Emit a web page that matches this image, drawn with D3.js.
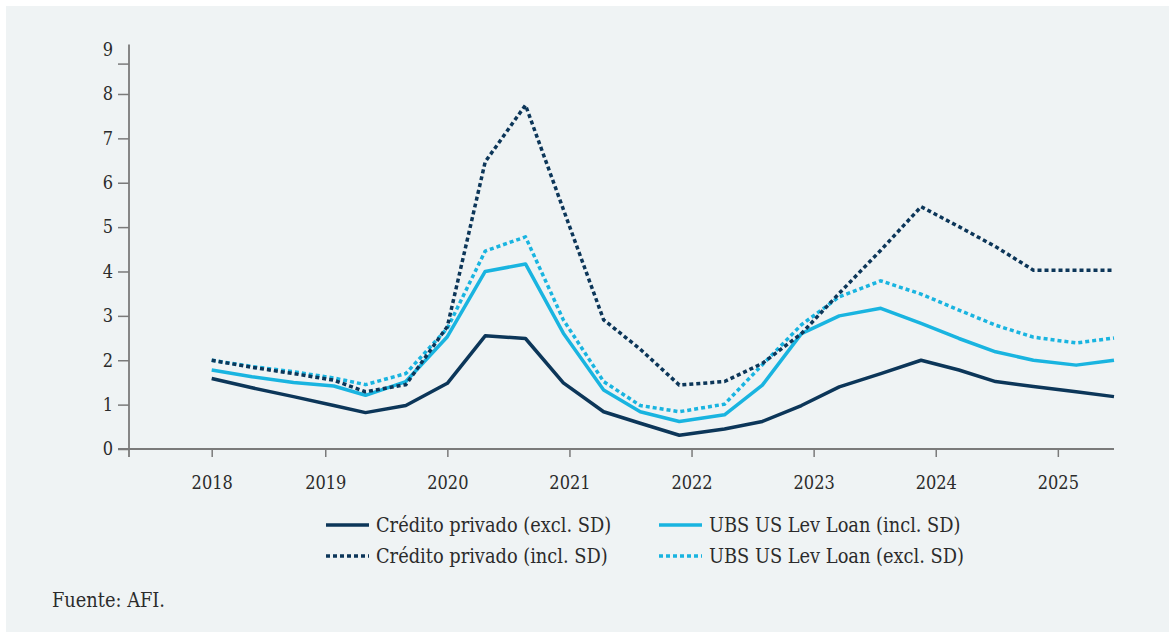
<!DOCTYPE html>
<html>
<head>
<meta charset="utf-8">
<script src="https://cdn.jsdelivr.net/npm/d3@7"></script>
<style>
  html, body { margin: 0; padding: 0; background: #ffffff; }
  svg text { font-family: "DejaVu Serif Condensed", "DejaVu Serif", serif; font-stretch: condensed; fill: #2b2b2b; }
</style>
</head>
<body>
<div id="chart"></div>
<script>
// fechas (año decimal) de cada observación
const dates = [2018.07, 2018.40, 2018.74, 2019.07, 2019.33, 2019.66, 2020.00, 2020.31,
  2020.64, 2020.95, 2021.28, 2021.58, 2021.90, 2022.27, 2022.58, 2022.90,
  2023.21, 2023.55, 2023.88, 2024.19, 2024.49, 2024.80, 2025.15, 2025.46];

const privExcl = [1.59, 1.38, 1.18, 0.98, 0.82, 0.98, 1.48, 2.55, 2.49, 1.49, 0.84, 0.58,
  0.31, 0.45, 0.62, 0.98, 1.40, 1.70, 2.00, 1.78, 1.52, 1.41, 1.29, 1.18];
const privIncl = [2.00, 1.84, 1.70, 1.55, 1.29, 1.45, 2.76, 6.47, 7.75, 5.40, 2.91, 2.25,
  1.44, 1.52, 1.93, 2.60, 3.51, 4.48, 5.46, 5.01, 4.56, 4.03, 4.03, 4.03];
const ubsIncl = [1.78, 1.63, 1.50, 1.42, 1.21, 1.52, 2.53, 4.00, 4.17, 2.61, 1.33, 0.84,
  0.62, 0.77, 1.44, 2.60, 3.00, 3.17, 2.83, 2.49, 2.19, 2.00, 1.89, 2.00];
const ubsExcl = [2.00, 1.86, 1.74, 1.60, 1.45, 1.70, 2.72, 4.46, 4.78, 2.91, 1.52, 0.98,
  0.84, 1.01, 1.90, 2.80, 3.43, 3.79, 3.49, 3.13, 2.79, 2.52, 2.39, 2.50];

const years = [2018, 2019, 2020, 2021, 2022, 2023, 2024, 2025];
const yTicks = [0, 1, 2, 3, 4, 5, 6, 7, 8, 9];

const seriesNames = [
  'Crédito privado (excl. SD)', 'UBS US Lev Loan (incl. SD)',
  'Crédito privado (incl. SD)', 'UBS US Lev Loan (excl. SD)'
];

const width = 1175, height = 632;
const navy = '#0c3659', cyan = '#19b4e0';
const tickFont = '18px', textFont = '19.8px';

const series = [
  { name: seriesNames[0], values: privExcl, color: navy, dash: null },
  { name: seriesNames[1], values: ubsIncl, color: cyan, dash: null },
  { name: seriesNames[2], values: privIncl, color: navy, dash: '4,3' },
  { name: seriesNames[3], values: ubsExcl, color: cyan, dash: '4,3' }
];

const svg = d3.select('#chart').append('svg')
  .attr('width', width)
  .attr('height', height);

// panel de fondo
svg.append('rect')
  .attr('x', 6).attr('y', 6)
  .attr('width', width - 12).attr('height', height - 6)
  .attr('fill', '#eff3f4');

const x = d3.scaleLinear()
  .domain([dates[0], dates[dates.length - 1]])
  .range([211.7, 1114]);

const y = d3.scaleLinear()
  .domain([0, 9])
  .range([449, 49.6]);

const axisColor = '#7a7a7a';

// eje Y
const yAxis = svg.append('g')
  .attr('transform', 'translate(129,0)')
  .call(d3.axisLeft(y).tickValues(yTicks).tickSize(11).tickPadding(5).tickSizeOuter(0));
yAxis.select('.domain').remove();
yAxis.selectAll('.tick line').attr('stroke', axisColor).attr('stroke-width', 1.5);
yAxis.selectAll('.tick text').style('font-size', tickFont).attr('fill', '#2b2b2b');
yAxis.selectAll('.tick').filter(d => d === 9).select('line')
  .attr('transform', 'translate(0,14)');

// eje X
const tickPos = years.map(yr => Math.max(yr, dates[0]));
const xAxis = svg.append('g')
  .attr('transform', `translate(0,${y(0)})`)
  .call(d3.axisBottom(x).tickValues(tickPos).tickSize(8).tickPadding(19)
    .tickFormat((d, i) => years[i]));
xAxis.select('.domain').remove();
xAxis.selectAll('.tick line').attr('stroke', axisColor).attr('stroke-width', 1.5);
xAxis.selectAll('.tick text').style('font-size', tickFont).attr('fill', '#2b2b2b');

// líneas de los ejes
svg.append('line')
  .attr('x1', 129).attr('x2', 129)
  .attr('y1', y(9) - 5).attr('y2', y(0) + 8)
  .attr('stroke', axisColor).attr('stroke-width', 1.8);
svg.append('line')
  .attr('x1', 118).attr('x2', x.range()[1])
  .attr('y1', y(0)).attr('y2', y(0))
  .attr('stroke', axisColor).attr('stroke-width', 1.8);

// series
const line = d3.line()
  .x((d, i) => x(dates[i]))
  .y(d => y(d));

const drawOrder = [0, 1, 3, 2];
drawOrder.forEach(k => {
  const s = series[k];
  svg.append('path')
    .datum(s.values)
    .attr('fill', 'none')
    .attr('stroke', s.color)
    .attr('stroke-width', 3.5)
    .attr('stroke-linejoin', 'round')
    .attr('stroke-dasharray', s.dash)
    .attr('d', line);
});

// leyenda
const legendCols = [326, 659];
const legendRows = [525, 556];
const legend = svg.append('g');
series.forEach((s, i) => {
  const lx = legendCols[i % 2];
  const ly = legendRows[Math.floor(i / 2)];
  const g = legend.append('g').attr('transform', `translate(${lx},${ly})`);
  g.append('line')
    .attr('x1', 0).attr('x2', 43)
    .attr('y1', 0).attr('y2', 0)
    .attr('stroke', s.color)
    .attr('stroke-width', 3.5)
    .attr('stroke-dasharray', s.dash);
  g.append('text')
    .attr('x', 50).attr('y', 0)
    .attr('dy', '0.35em')
    .style('font-size', textFont)
    .text(s.name);
});

// fuente
svg.append('text')
  .attr('x', 52).attr('y', 600)
  .attr('dy', '0.35em')
  .style('font-size', textFont)
  .text('Fuente: AFI.');
</script>
</body>
</html>
